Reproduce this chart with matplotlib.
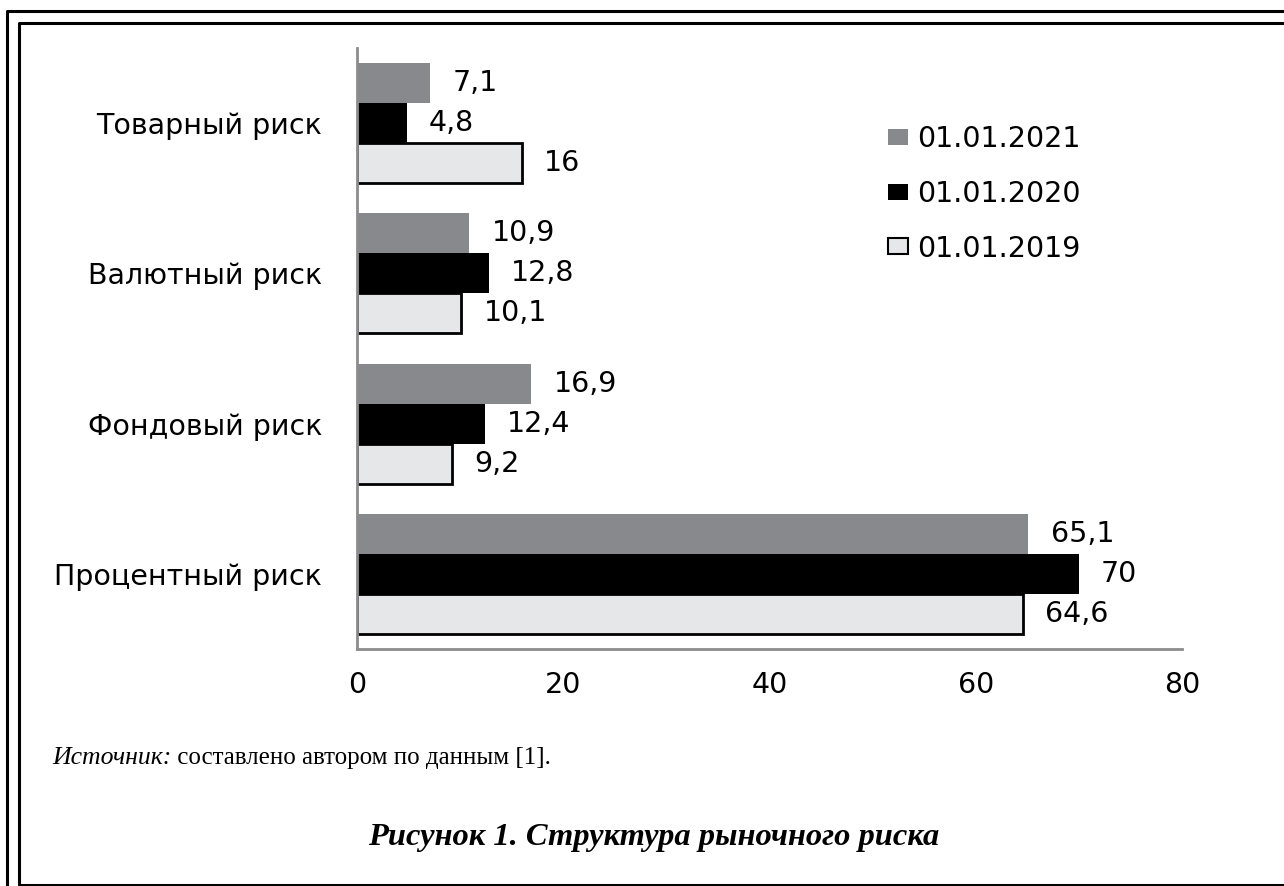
import matplotlib
matplotlib.use('Agg')
import matplotlib.pyplot as plt
from matplotlib.lines import Line2D
from matplotlib.patches import Patch
import numpy as np

# data
categories = ['Процентный риск', 'Фондовый риск', 'Валютный риск', 'Товарный риск']
v2021 = [65.1, 16.9, 10.9, 7.1]
v2020 = [70, 12.4, 12.8, 4.8]
v2019 = [64.6, 9.2, 10.1, 16]
series_names = ['01.01.2021', '01.01.2020', '01.01.2019']
x_ticks = [0, 20, 40, 60, 80]

c2021 = '#88898c'
c2020 = '#000000'
c2019 = '#e6e7e8'
W, H = 1284, 886
fs = 20.5

plt.rcParams['font.family'] = 'DejaVu Sans'
fig = plt.figure(figsize=(W / 100, H / 100), dpi=100)
ax = fig.add_axes([357 / W, 1 - 649 / H, (1182 - 357) / W, (649 - 48) / H])

y = np.arange(len(categories))
h = 0.8 / 3
b1 = ax.barh(y + h, v2021, height=h, color=c2021, zorder=2)
b2 = ax.barh(y, v2020, height=h, color=c2020, zorder=2)
b3 = ax.barh(y - h, v2019, height=h, color=c2019, edgecolor='black', linewidth=2, zorder=2)

for bars in (b1, b2, b3):
    for bar in bars:
        w = bar.get_width()
        lab = ('%g' % w).replace('.', ',')
        ax.annotate(lab, xy=(w, bar.get_y() + bar.get_height() / 2),
                    xytext=(16, 0), textcoords='offset points',
                    ha='left', va='center', fontsize=fs)

ax.set_xlim(0, 80)
ax.set_ylim(-0.5, len(categories) - 0.5)
ax.set_xticks(x_ticks)
ax.set_xticklabels([str(t) for t in x_ticks], fontsize=fs)
ax.set_yticks(y)
ax.set_yticklabels(categories, fontsize=fs)
ax.tick_params(axis='y', length=0, pad=25)
ax.tick_params(axis='x', length=0, pad=16)
for s in ['top', 'right']:
    ax.spines[s].set_visible(False)
for s in ['left', 'bottom']:
    ax.spines[s].set_color('#8c8c8c')
    ax.spines[s].set_linewidth(2)
    ax.spines[s].set_zorder(3)

handles = [Patch(facecolor=c2021, edgecolor='none'),
           Patch(facecolor=c2020, edgecolor='none'),
           Patch(facecolor=c2019, edgecolor='black', linewidth=1.5)]
ax.legend(handles, series_names, loc='upper left',
          bbox_to_anchor=(888 / W, 1 - 125 / H), bbox_transform=fig.transFigure,
          frameon=False, fontsize=fs, borderpad=0, borderaxespad=0,
          handlelength=0.7, handleheight=0.49, handletextpad=0.32,
          labelspacing=0.94)

# source note and caption
t1 = fig.text(52 / W, 1 - 758 / H, 'Источник:', fontsize=18.5, style='italic',
              family='Liberation Serif', va='center')
ax.annotate(' составлено автором по данным [1].', xy=(1, 0), xycoords=t1,
            va='bottom', ha='left', fontsize=18, family='Liberation Serif',
            annotation_clip=False)
fig.text(654 / W, 1 - 837 / H, 'Рисунок 1. Структура рыночного риска',
         fontsize=23.4, style='italic', weight='bold', family='Liberation Serif',
         ha='center', va='center')

# double frame around the figure
fig.add_artist(Line2D([7 / W, 7 / W, 1], [0, 1 - 11 / H, 1 - 11 / H],
                      transform=fig.transFigure, color='black', lw=2.2))
fig.add_artist(Line2D([1, 19 / W, 19 / W, 1],
                      [1 - 23 / H, 1 - 23 / H, 1 - 885 / H, 1 - 885 / H],
                      transform=fig.transFigure, color='black', lw=2.2))

fig.savefig('out.png', dpi=100)
